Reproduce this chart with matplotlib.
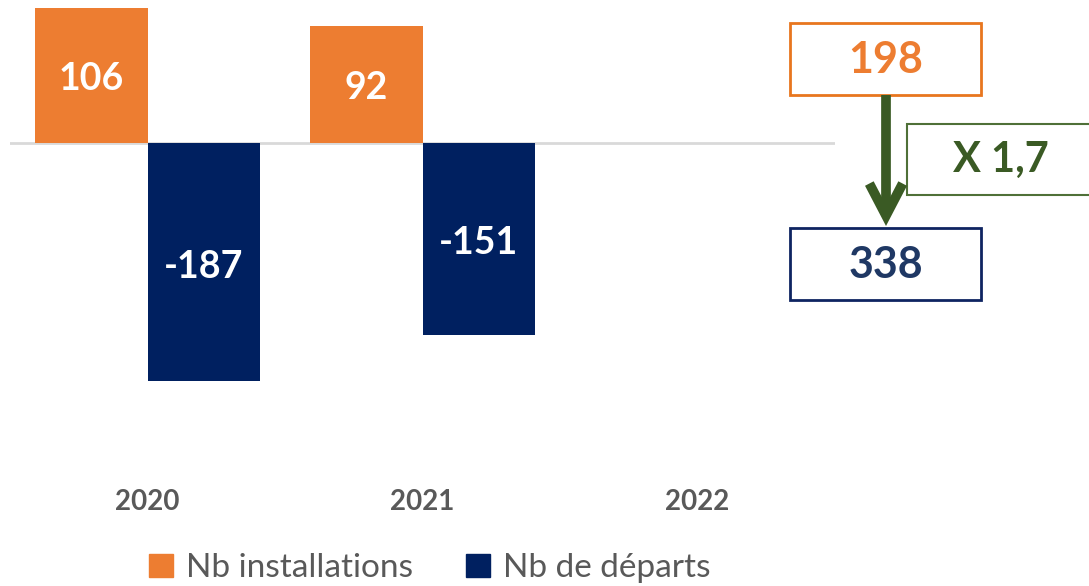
import numpy as np
from matplotlib import pyplot as plt
from matplotlib.patches import Rectangle, FancyArrowPatch, Patch

years = ['2020', '2021', '2022']
installations = [106, 92, np.nan]
departures = [-187, -151, np.nan]
total_installations = 198
total_departures = 338
ratio_label = 'X 1,7'

orange = '#ED7D31'
navy = '#002060'
green = '#3A5A24'
gray = '#595959'

W, H = 1089, 586
plt.rcParams['font.family'] = ['Lato', 'DejaVu Sans']

fig = plt.figure(figsize=(W / 100, H / 100), dpi=100)


def fx(px):
    return px / W


def fy(py):
    return 1 - py / H


# axes spans pixel x 10..835, y 0..461
ax = fig.add_axes([fx(10), fy(461.5), (835 - 10) / W, 461.5 / H])
x = np.arange(len(years))
w = 0.41
b1 = ax.bar(x - w / 2, installations, w, color=orange, label='Nb installations', zorder=2)
b2 = ax.bar(x + w / 2, departures, w, color=navy, label='Nb de départs', zorder=2)
ax.set_xlim(-0.5, 2.5)
ax.set_ylim(-250, 112.2)
ax.axhline(0, color='#d9d9d9', lw=2, zorder=1)

for bars, vals in ((b1, installations), (b2, departures)):
    for r, v in zip(bars, vals):
        if np.isnan(v):
            continue
        ax.text(r.get_x() + r.get_width() / 2, v / 2 - 3 if v > 0 else v * 0.52,
                f'{v:.0f}', ha='center', va='center', color='white',
                fontsize=27, fontweight='bold')

for s in ax.spines.values():
    s.set_visible(False)
ax.set_yticks([])
ax.set_xticks(x)
ax.set_xticklabels(years, fontsize=20, fontweight='bold', color=gray)
ax.tick_params(axis='x', length=0, pad=20)

ax.legend(handles=[Patch(color=orange), Patch(color=navy)],
          labels=['Nb installations', 'Nb de départs'],
          loc='center', bbox_to_anchor=(fx(430), fy(568)),
          bbox_transform=fig.transFigure, ncol=2, frameon=False,
          fontsize=24, labelcolor=gray, handlelength=0.7, handleheight=0.7,
          handletextpad=0.4, columnspacing=1.6)


def box(x0, y0, x1, y1, edge, lw):
    fig.add_artist(Rectangle((fx(x0), fy(y1)), fx(x1) - fx(x0), fy(y0) - fy(y1),
                             transform=fig.transFigure, facecolor='white',
                             edgecolor=edge, lw=lw, clip_on=False))


box(790, 23, 981, 95, '#E8761E', 2)
fig.text(fx(885.5), fy(60), str(total_installations), ha='center', va='center',
         color=orange, fontsize=31, fontweight='bold')
box(790, 228, 981, 300, '#0E2461', 2)
fig.text(fx(885.5), fy(265), str(total_departures), ha='center', va='center',
         color='#1F3864', fontsize=31, fontweight='bold')
box(907, 124, 1100, 195, '#4F7038', 1.5)
fig.text(fx(1001), fy(160), ratio_label, ha='center', va='center',
         color=green, fontsize=30, fontweight='bold')

arrow = FancyArrowPatch((fx(886), fy(95)), (fx(886), fy(226)),
                        transform=fig.transFigure,
                        arrowstyle='->,head_length=2.3,head_width=1.2',
                        mutation_scale=10,
                        color=green, lw=7, shrinkA=0, shrinkB=0,
                        capstyle='butt', joinstyle='miter')
fig.add_artist(arrow)

fig.savefig('out.png', dpi=100)
